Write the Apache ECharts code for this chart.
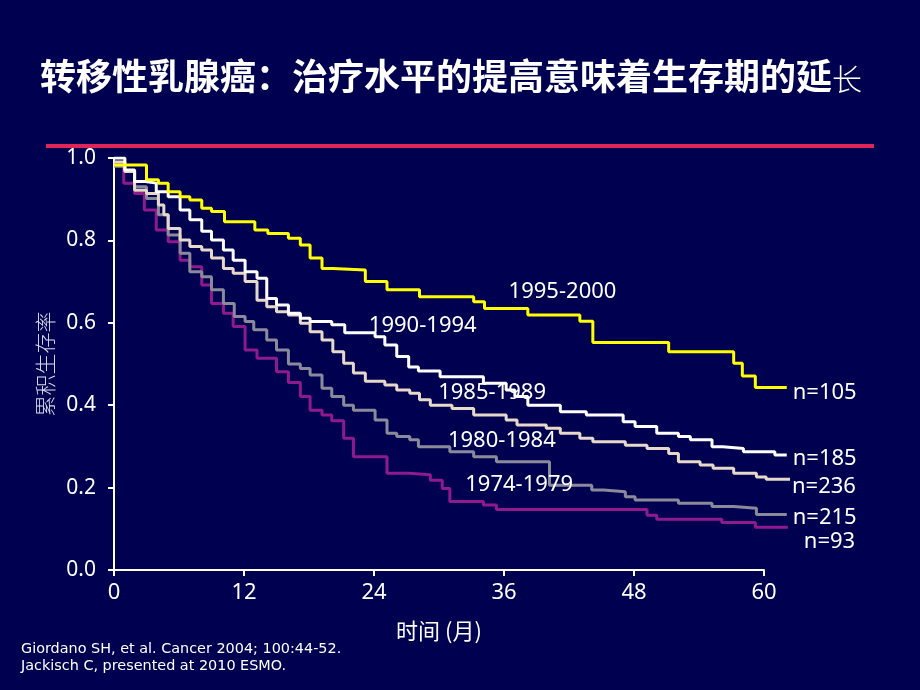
<!DOCTYPE html>
<html><head><meta charset="utf-8">
<script src="https://cdn.jsdelivr.net/npm/echarts@6/dist/echarts.min.js"></script>
<style>html,body{margin:0;padding:0;background:#000050;}#c{width:920px;height:690px;}</style>
</head><body><div id="c"></div>
<script>
// ---- data ----
const titleMain = '转移性乳腺癌：治疗水平的提高意味着生存期的延';
const titleLast = '长';
const xAxisName = '时间 (月)';
const yAxisName = '累积生存率';
const citations = ['Giordano SH, et al. Cancer 2004; 100:44-52.', 'Jackisch C, presented at 2010 ESMO.'];

const seriesNames = ['1995-2000', '1990-1994', '1985-1989', '1980-1984', '1974-1979'];
const nLabels = ['n=105', 'n=185', 'n=236', 'n=215', 'n=93'];

// Kaplan-Meier steps: [month, cumulative survival]
const s1995 = [[0,0.983],[3.0,0.947],[4.1,0.939],[5.0,0.918],[6.1,0.906],[7.0,0.898],[8.1,0.878],[9.0,0.870],[10.2,0.845],[13.0,0.825],[14.2,0.817],[16.1,0.805],[17.2,0.789],[18.1,0.757],[19.2,0.732],[20.2,0.728],[23.2,0.700],[25.2,0.680],[28.2,0.663],[33.2,0.651],[34.2,0.635],[38.2,0.619],[43.0,0.604],[44.2,0.552],[51.2,0.530],[57.2,0.502],[58.0,0.471],[59.2,0.443],[62.1,0.443]];
const s1990 = [[0,1.0],[1.0,0.971],[1.9,0.943],[2.9,0.939],[3.9,0.918],[5.0,0.906],[6.1,0.874],[7.0,0.850],[8.1,0.822],[9.0,0.801],[10.1,0.777],[11.0,0.752],[12.1,0.724],[13.2,0.708],[14.1,0.659],[15.0,0.643],[16.1,0.623],[17.2,0.611],[18.1,0.603],[20.1,0.595],[21.3,0.576],[24.1,0.566],[25.0,0.546],[26.1,0.518],[27.2,0.493],[28.1,0.483],[30.1,0.469],[34.1,0.453],[36.2,0.437],[37.0,0.421],[38.2,0.400],[41.2,0.384],[43.6,0.376],[47.0,0.360],[48.1,0.348],[50.1,0.332],[52.1,0.324],[53.2,0.316],[55.2,0.299],[56.2,0.295],[58.1,0.287],[61.0,0.279],[62.1,0.279]];
const s1985 = [[0,0.99],[1.0,0.967],[1.9,0.922],[3.0,0.914],[4.1,0.886],[4.6,0.862],[5.0,0.829],[6.1,0.801],[7.0,0.785],[8.1,0.777],[9.0,0.757],[10.1,0.732],[11.0,0.720],[12.1,0.700],[13.2,0.655],[14.1,0.639],[15.0,0.627],[16.1,0.619],[17.2,0.599],[18.1,0.578],[19.2,0.558],[20.2,0.530],[21.2,0.502],[22.1,0.478],[23.2,0.458],[25.0,0.449],[26.1,0.437],[27.3,0.429],[28.2,0.413],[29.2,0.400],[31.2,0.392],[33.2,0.376],[36.2,0.364],[37.2,0.352],[39.9,0.344],[41.2,0.332],[43.0,0.320],[44.2,0.311],[47.2,0.303],[49.2,0.295],[51.2,0.283],[52.1,0.263],[54.1,0.255],[55.3,0.247],[57.2,0.235],[59.3,0.226],[60.2,0.220],[62.4,0.220]];
const s1980 = [[0,0.98],[1.0,0.967],[1.9,0.93],[3.0,0.902],[4.1,0.862],[5.0,0.813],[6.1,0.769],[7.0,0.724],[8.1,0.712],[9.0,0.680],[10.1,0.647],[11.1,0.615],[12.1,0.603],[12.9,0.583],[14.1,0.558],[15.0,0.534],[16.1,0.500],[17.2,0.489],[18.1,0.473],[19.2,0.441],[20.1,0.421],[21.2,0.400],[22.1,0.388],[24.1,0.364],[25.2,0.332],[26.1,0.324],[27.3,0.316],[28.1,0.299],[31.0,0.287],[33.2,0.275],[35.3,0.263],[40.2,0.206],[44.1,0.194],[45.2,0.190],[47.2,0.178],[48.1,0.170],[52.1,0.162],[55.2,0.154],[57.2,0.150],[59.3,0.135],[62.1,0.135]];
const s1974 = [[0,0.983],[0.9,0.939],[1.9,0.914],[2.8,0.874],[3.9,0.825],[5.0,0.797],[6.1,0.752],[7.0,0.736],[8.1,0.692],[9.0,0.647],[10.1,0.623],[11.0,0.591],[12.1,0.534],[13.2,0.514],[15.0,0.481],[16.1,0.455],[17.2,0.421],[18.1,0.388],[19.2,0.376],[20.1,0.362],[21.2,0.320],[22.1,0.275],[25.2,0.235],[27.2,0.231],[29.2,0.218],[30.3,0.198],[31.0,0.166],[34.1,0.158],[35.3,0.147],[49.2,0.133],[50.1,0.123],[56.1,0.115],[59.2,0.104],[62.2,0.104]];
const curves = [s1995, s1990, s1985, s1980, s1974];

// where each cohort name is written (month, survival)
const nameAnchors = [[41.4,0.675],[28.5,0.592],[34.9,0.430],[35.8,0.313],[37.4,0.206]];

const xTickMin = 0, xTickMax = 60, xTickStep = 12;
const followUpMax = 62.4;   // curves run slightly past the last tick
const yTickMin = 0, yTickMax = 1, yTickStep = 0.2;

// ---- styles / layout ----
const colors = ['#FFFF00', '#FFFFFF', '#E8D8CA', '#8A8A9A', '#8E1A8E'];
const endOffsets = [[6,5],[6,4],[2,7],[6,3],[16,15]];
const sansFont = 'Noto Sans, DejaVu Sans, sans-serif';
const cjkFont = 'Noto Sans CJK SC, sans-serif';
const plotLeft = 114, plotTop = 158, plotBottom = 120, axisRight = 156;
const plotWidth = 920 - plotLeft - axisRight;
const curveRight = 920 - plotLeft - plotWidth * followUpMax / xTickMax;

const chart = echarts.init(document.getElementById('c'), null, {renderer: 'canvas'});

const lineSeries = curves.map((d, i) => ({
  type: 'line',
  name: seriesNames[i],
  xAxisIndex: 1, yAxisIndex: 1,
  data: d,
  step: 'end',
  showSymbol: false,
  symbol: 'none',
  z: 10 - i,
  lineStyle: {color: colors[i], width: 3},
  emphasis: {disabled: true}
}));

const labelSeries = {
  type: 'scatter',
  xAxisIndex: 0, yAxisIndex: 0,
  data: nameAnchors.map((p, i) => ({value: p, name: seriesNames[i]})),
  symbolSize: 0,
  z: 20,
  itemStyle: {opacity: 1},
  label: {
    show: true,
    position: 'inside',
    formatter: p => p.name,
    color: '#FFFFFF',
    fontSize: 22,
    fontFamily: sansFont
  },
  emphasis: {disabled: true},
  silent: true
};

const baseGraphics = [
  {type: 'text', left: 40, top: 58, style: {
    text: '{a|' + titleMain + '}{b|' + titleLast + '}',
    rich: {
      a: {fontSize: 36, fontWeight: 'bold', fontFamily: cjkFont, fill: '#FFFFFF', verticalAlign: 'bottom'},
      b: {fontSize: 30, fontWeight: 300, fontFamily: cjkFont, fill: '#FFFFFF', verticalAlign: 'bottom'}
    }
  }},
  {type: 'rect', shape: {x: 46, y: 144, width: 828, height: 4}, style: {fill: '#E0245A'}},
  {type: 'text', left: 21, top: 641, style: {
    text: citations.join('\n'), fill: '#FFFFFF', fontSize: 14.4, lineHeight: 17, fontFamily: 'DejaVu Sans, sans-serif'
  }}
];

const hiddenAxis = {show: false, axisLine: {show: false}, axisTick: {show: false}, axisLabel: {show: false}, splitLine: {show: false}};

chart.setOption({
  backgroundColor: '#000050',
  animation: false,
  grid: [
    {left: plotLeft, right: axisRight, top: plotTop, bottom: plotBottom, containLabel: false},
    {left: plotLeft, right: curveRight, top: plotTop, bottom: plotBottom, containLabel: false}
  ],
  xAxis: [{
    type: 'value', gridIndex: 0, min: xTickMin, max: xTickMax, interval: xTickStep,
    name: xAxisName, nameLocation: 'middle', nameGap: 50,
    nameTextStyle: {color: '#FFFFFF', fontSize: 22, fontFamily: cjkFont},
    axisLine: {show: true, onZero: false, lineStyle: {color: '#FFFFFF', width: 2}},
    axisTick: {show: true, length: 6, lineStyle: {color: '#FFFFFF', width: 2}},
    axisLabel: {color: '#FFFFFF', fontSize: 22, fontFamily: sansFont, margin: 12},
    splitLine: {show: false}
  }, Object.assign({type: 'value', gridIndex: 1, min: xTickMin, max: followUpMax}, hiddenAxis)],
  yAxis: [{
    type: 'value', gridIndex: 0, min: yTickMin, max: yTickMax, interval: yTickStep,
    name: yAxisName, nameLocation: 'middle', nameGap: 58, nameRotate: 90,
    nameTextStyle: {color: '#D8D8E8', fontSize: 21, fontFamily: cjkFont, fontWeight: 300},
    axisLine: {show: true, lineStyle: {color: '#FFFFFF', width: 2}},
    axisTick: {show: true, length: 6, lineStyle: {color: '#FFFFFF', width: 2}},
    axisLabel: {color: '#FFFFFF', fontSize: 21, fontFamily: sansFont, margin: 18, formatter: v => v.toFixed(1)},
    splitLine: {show: false}
  }, Object.assign({type: 'value', gridIndex: 1, min: yTickMin, max: yTickMax}, hiddenAxis)],
  graphic: baseGraphics,
  series: lineSeries.concat([labelSeries])
});

// sample-size labels at the end of each curve, placed through the axes
const nGraphics = curves.map((d, i) => {
  const last = d[d.length - 1];
  const p = chart.convertToPixel({xAxisIndex: 1, yAxisIndex: 1}, last);
  return {type: 'text', x: p[0] + endOffsets[i][0], y: p[1] + endOffsets[i][1], z: 30, style: {
    text: nLabels[i], fill: '#FFFFFF', fontSize: 22, fontFamily: sansFont,
    align: 'left', verticalAlign: 'middle', textAlign: 'left', textVerticalAlign: 'middle'
  }};
});
chart.setOption({graphic: baseGraphics.concat(nGraphics)});
</script></body></html>
